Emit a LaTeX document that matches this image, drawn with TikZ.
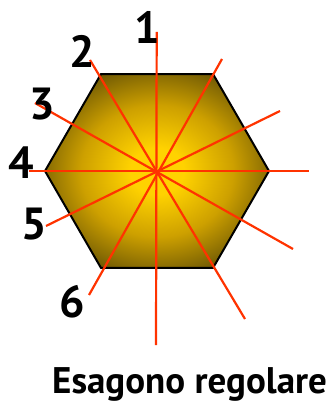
\documentclass[tikz,border=0pt]{standalone}
\usepackage{fontspec}
\usepackage{tikz}
\usepackage{xcolor}
\usetikzlibrary{calc}
\newfontfamily\handfont{PT Sans}
\definecolor{cYellow}{RGB}{255,210,0}
\definecolor{cGold}{RGB}{205,160,0}
\definecolor{cDark}{RGB}{110,88,4}
\definecolor{cRay}{RGB}{255,51,0}
\pgfdeclareradialshading{hexglow}{\pgfpoint{0bp}{0bp}}{color(0bp)=(cYellow); color(6bp)=(cYellow); color(17bp)=(cGold); color(28bp)=(cDark); color(50bp)=(cDark)}
\tikzset{
	hexface/.style={draw=black, line width=2pt, line join=miter, shading=hexglow},
	ray/.style    ={draw=cRay, line width=2.2pt},
	num/.style    ={font=\handfont\bfseries\fontsize{45}{45}\selectfont, inner sep=0pt},
	caption/.style={font=\handfont\bfseries\fontsize{37}{37}\selectfont, inner sep=0pt},
}
\begin{document}
\begin{tikzpicture}[x=1pt, y=-1pt]
	\useasboundingbox (0,0) rectangle (329,411);
	\coordinate (c) at (157,171);
	% the hexagon
	\path[hexface] (c) +(0:112) -- +(60:112) -- +(120:112) -- +(180:112) -- +(240:112) -- +(300:112) -- cycle;
	% the six axes of symmetry
	\foreach \k/\a/\b in {1/{156.7,32}/{156,345}, 2/{90,60}/{245,319}, 3/{35,103}/{293,249},
		4/{29,171}/{309,171}, 5/{46,226}/{280,111}, 6/{89,295}/{222,59}} {
		\coordinate (a\k) at (\a);
		\coordinate (b\k) at (\b);
		\draw[ray] (a\k) -- (b\k);
	}
	\node[num] (n1) at (147,27) {1};
	\node[num] (n2) at (82,51) {2};
	\node[num] (n3) at (42,104) {3};
	\node[num] (n4) at (21,163) {4};
	\node[num] (n5) at (34,224) {5};
	\node[num] (n6) at (72,302) {6};
	\node[caption, anchor=base west] (title) at (52,393) {Esagono regolare};
\end{tikzpicture}
\end{document}
